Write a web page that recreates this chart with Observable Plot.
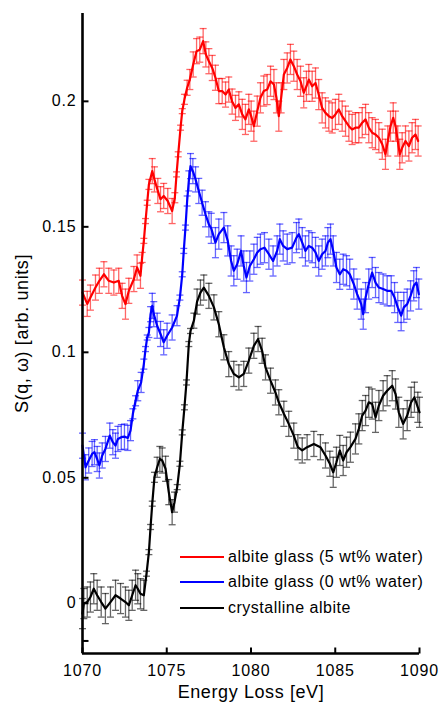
<!DOCTYPE html>
<html><head><meta charset="utf-8">
<script src="https://cdn.jsdelivr.net/npm/d3@7"></script>
<script src="https://cdn.jsdelivr.net/npm/@observablehq/plot@0.6"></script>
<style>
html,body{margin:0;padding:0;background:#fff;}
#wrap{position:relative;width:441px;height:702px;overflow:hidden;}
#legend{position:absolute;left:180px;top:544px;font:16px "Liberation Sans",Arial,sans-serif;letter-spacing:0.5px;color:#000;}
#legend .row{display:flex;align-items:center;height:25.5px;white-space:nowrap;}
#legend .sw{width:44px;height:0;border-top:2.5px solid;margin-right:4px;}
g[aria-label="x-axis label"] text, g[aria-label="y-axis label"] text{font-size:18px;letter-spacing:0.6px;}
</style></head>
<body><div id="wrap"><div id="legend"></div></div>
<script>
// ---- data ----
const seriesNames = ["albite glass (5 wt% water)", "albite glass (0 wt% water)", "crystalline albite"];
const seriesColors = ["#ff0000", "#0000ff", "#000000"];

const redE = [1070.00,1070.28,1070.47,1070.77,1071.00,1071.27,1071.56,1071.86,1072.15,1072.35,1072.55,1072.75,1073.05,1073.24,1073.44,1073.54,1073.64,1073.74,1073.84,1073.94,1074.14,1074.27,1074.47,1074.63,1074.82,1075.06,1075.32,1075.48,1075.58,1075.68,1075.82,1075.92,1076.05,1076.21,1076.37,1076.57,1076.77,1076.96,1077.16,1077.32,1077.50,1077.70,1077.89,1078.09,1078.29,1078.49,1078.68,1078.88,1079.08,1079.28,1079.48,1079.67,1079.87,1080.01,1080.17,1080.37,1080.56,1080.76,1080.96,1081.16,1081.36,1081.51,1081.65,1081.79,1081.95,1082.15,1082.34,1082.54,1082.74,1082.94,1083.13,1083.29,1083.43,1083.63,1083.83,1084.02,1084.22,1084.42,1084.62,1084.82,1085.01,1085.21,1085.41,1085.61,1085.81,1086.00,1086.20,1086.40,1086.60,1086.80,1086.99,1087.19,1087.39,1087.59,1087.79,1087.98,1088.12,1088.28,1088.44,1088.58,1088.71,1088.83,1088.97,1089.17,1089.37,1089.56,1089.76,1089.92];
const redS = [0.1238,0.1193,0.1218,0.1258,0.1285,0.1311,0.1285,0.1278,0.1285,0.1225,0.1192,0.1245,0.1292,0.1338,0.1305,0.1378,0.1444,0.1523,0.1596,0.1669,0.1722,0.1689,0.1643,0.1610,0.1623,0.1603,0.1563,0.1616,0.1709,0.1789,0.1895,0.1961,0.2008,0.2054,0.2087,0.2147,0.2200,0.2206,0.2240,0.2187,0.2160,0.2133,0.2094,0.2041,0.2041,0.2027,0.2047,0.1999,0.1974,0.1988,0.1948,0.1928,0.1968,0.1941,0.1901,0.1961,0.2014,0.2041,0.2047,0.2080,0.2067,0.2014,0.1941,0.2014,0.2107,0.2133,0.2167,0.2140,0.2107,0.2080,0.2034,0.2060,0.2087,0.2060,0.2073,0.2027,0.1974,0.1954,0.1941,0.1934,0.1948,0.1968,0.1941,0.1921,0.1901,0.1888,0.1895,0.1895,0.1915,0.1928,0.1895,0.1875,0.1868,0.1855,0.1829,0.1789,0.1842,0.1901,0.1934,0.1901,0.1842,0.1789,0.1815,0.1842,0.1822,0.1855,0.1868,0.1842];
const redErr = [0.005,0.005,0.005,0.005,0.005,0.005,0.005,0.005,0.005,0.005,0.006,0.005,0.005,0.005,0.005,0.002,0.001,0.001,0.001,0.002,0.005,0.005,0.005,0.005,0.005,0.005,0.005,0.002,0.001,0.001,0.001,0.001,0.002,0.003,0.004,0.005,0.005,0.005,0.005,0.005,0.005,0.005,0.005,0.005,0.005,0.005,0.005,0.005,0.005,0.005,0.006,0.006,0.006,0.006,0.006,0.006,0.006,0.006,0.006,0.006,0.006,0.006,0.006,0.006,0.006,0.006,0.006,0.006,0.006,0.006,0.006,0.006,0.006,0.006,0.006,0.006,0.006,0.006,0.006,0.006,0.006,0.006,0.006,0.006,0.006,0.006,0.006,0.006,0.006,0.006,0.006,0.006,0.006,0.006,0.006,0.006,0.006,0.006,0.006,0.006,0.006,0.006,0.006,0.006,0.006,0.006,0.006,0.006];

const blueE = [1070.00,1070.18,1070.37,1070.57,1070.71,1070.87,1071.00,1071.17,1071.36,1071.62,1071.80,1071.96,1072.10,1072.30,1072.49,1072.69,1072.85,1072.99,1073.15,1073.28,1073.48,1073.64,1073.74,1073.84,1073.94,1074.04,1074.14,1074.23,1074.43,1074.63,1074.82,1075.02,1075.32,1075.61,1075.78,1075.92,1076.01,1076.11,1076.21,1076.31,1076.41,1076.55,1076.71,1076.90,1077.10,1077.30,1077.50,1077.64,1077.89,1078.09,1078.39,1078.62,1078.82,1078.98,1079.18,1079.41,1079.57,1079.73,1079.93,1080.17,1080.37,1080.56,1080.80,1081.06,1081.31,1081.55,1081.71,1081.91,1082.15,1082.44,1082.70,1082.84,1083.04,1083.23,1083.43,1083.63,1083.83,1084.02,1084.22,1084.42,1084.56,1084.72,1084.88,1085.07,1085.27,1085.47,1085.67,1085.86,1086.10,1086.30,1086.54,1086.66,1086.80,1086.99,1087.19,1087.39,1087.59,1087.84,1088.08,1088.32,1088.52,1088.71,1088.91,1089.07,1089.27,1089.47,1089.66,1089.82,1089.96];
const blueS = [0.0628,0.0542,0.0569,0.0595,0.0602,0.0575,0.0549,0.0589,0.0615,0.0668,0.0642,0.0628,0.0655,0.0662,0.0664,0.0659,0.0688,0.0755,0.0807,0.0847,0.0880,0.0953,0.1013,0.1059,0.1079,0.1152,0.1185,0.1152,0.1106,0.1073,0.1040,0.1066,0.1099,0.1146,0.1218,0.1311,0.1404,0.1497,0.1603,0.1683,0.1742,0.1722,0.1689,0.1643,0.1596,0.1550,0.1510,0.1494,0.1437,0.1471,0.1497,0.1444,0.1364,0.1325,0.1351,0.1404,0.1344,0.1298,0.1344,0.1371,0.1398,0.1411,0.1417,0.1391,0.1364,0.1404,0.1451,0.1424,0.1411,0.1417,0.1457,0.1471,0.1437,0.1404,0.1424,0.1417,0.1398,0.1364,0.1391,0.1404,0.1437,0.1451,0.1404,0.1338,0.1311,0.1331,0.1325,0.1311,0.1272,0.1232,0.1192,0.1152,0.1218,0.1272,0.1318,0.1278,0.1258,0.1252,0.1245,0.1245,0.1218,0.1179,0.1146,0.1179,0.1192,0.1225,0.1265,0.1278,0.1232];
const blueErr = [0.005,0.005,0.005,0.005,0.005,0.005,0.005,0.005,0.005,0.005,0.005,0.005,0.005,0.005,0.005,0.005,0.004,0.002,0.002,0.004,0.004,0.002,0.001,0.001,0.002,0.003,0.005,0.005,0.005,0.005,0.005,0.005,0.005,0.004,0.001,0.001,0.001,0.001,0.002,0.004,0.005,0.005,0.005,0.005,0.005,0.005,0.005,0.006,0.006,0.006,0.006,0.006,0.006,0.006,0.006,0.006,0.006,0.006,0.006,0.006,0.006,0.006,0.006,0.006,0.006,0.006,0.006,0.006,0.006,0.006,0.006,0.006,0.006,0.006,0.006,0.006,0.006,0.006,0.006,0.006,0.006,0.006,0.006,0.006,0.006,0.006,0.006,0.006,0.006,0.006,0.006,0.006,0.006,0.006,0.006,0.006,0.006,0.006,0.006,0.006,0.006,0.006,0.006,0.006,0.006,0.006,0.006,0.006,0.006];

const blackE = [1070.00,1070.08,1070.28,1070.47,1070.67,1070.87,1071.11,1071.36,1071.66,1071.96,1072.26,1072.55,1072.75,1072.95,1073.15,1073.28,1073.44,1073.64,1073.80,1073.94,1074.04,1074.14,1074.27,1074.43,1074.59,1074.73,1074.93,1075.12,1075.32,1075.46,1075.62,1075.78,1075.92,1076.05,1076.17,1076.31,1076.41,1076.61,1076.80,1077.00,1077.20,1077.50,1077.80,1078.09,1078.39,1078.68,1078.98,1079.28,1079.57,1079.87,1080.17,1080.42,1080.66,1080.86,1081.16,1081.45,1081.65,1081.95,1082.24,1082.54,1082.78,1083.04,1083.33,1083.73,1084.12,1084.42,1084.68,1084.88,1085.07,1085.27,1085.47,1085.67,1085.90,1086.20,1086.40,1086.60,1086.80,1086.99,1087.19,1087.39,1087.59,1087.84,1088.08,1088.38,1088.58,1088.77,1089.03,1089.27,1089.50,1089.70,1089.90,1090.00];
const blackS = [-0.0041,-0.0001,0.0005,0.0025,0.0058,0.0032,0.0005,-0.0021,0.0005,0.0032,0.0019,0.0005,-0.0008,0.0032,0.0072,0.0058,0.0038,0.0032,0.0118,0.0204,0.0304,0.0397,0.0502,0.0542,0.0575,0.0569,0.0536,0.0443,0.0363,0.0403,0.0463,0.0556,0.0681,0.0781,0.0880,0.1033,0.1085,0.1126,0.1202,0.1238,0.1258,0.1225,0.1179,0.1112,0.1020,0.0953,0.0914,0.0900,0.0914,0.0967,0.1026,0.1053,0.1006,0.0940,0.0887,0.0840,0.0801,0.0755,0.0715,0.0668,0.0622,0.0609,0.0622,0.0635,0.0622,0.0589,0.0556,0.0522,0.0562,0.0609,0.0569,0.0602,0.0622,0.0655,0.0695,0.0748,0.0768,0.0801,0.0794,0.0741,0.0788,0.0827,0.0847,0.0867,0.0834,0.0761,0.0715,0.0748,0.0801,0.0821,0.0781,0.0761];
const blackErr = [0.006,0.006,0.006,0.006,0.006,0.006,0.006,0.006,0.006,0.006,0.006,0.006,0.006,0.006,0.006,0.006,0.006,0.006,0.001,0.001,0.001,0.001,0.002,0.004,0.005,0.005,0.005,0.005,0.005,0.004,0.001,0.001,0.001,0.001,0.001,0.001,0.001,0.003,0.005,0.005,0.005,0.005,0.005,0.005,0.005,0.005,0.005,0.005,0.005,0.005,0.005,0.005,0.005,0.005,0.005,0.005,0.005,0.005,0.005,0.005,0.005,0.005,0.005,0.005,0.005,0.005,0.005,0.006,0.006,0.006,0.006,0.006,0.006,0.006,0.006,0.006,0.006,0.006,0.006,0.006,0.006,0.006,0.006,0.006,0.006,0.006,0.006,0.006,0.006,0.006,0.006,0.006];

const xTicks = [1070, 1075, 1080, 1085, 1090];
const xTickLabels = ["1070", "1075", "1080", "1085", "1090"];
const yTicks = [0, 0.05, 0.1, 0.15, 0.2];
const yTickLabels = ["0", "0.05", "0.1", "0.15", "0.2"];
const yMinorTicks = [-0.015];
const xLabel = "Energy Loss [eV]";
const yLabel = "S(q, ω) [arb. units]";

// ---- build rows ----
const sets = [[redE, redS, redErr], [blueE, blueS, blueErr], [blackE, blackS, blackErr]];
const rows = sets.flatMap(([E, S, Er], k) => E.map((e, i) => ({name: seriesNames[k], color: seriesColors[k], E: e, S: S[i], err: Er[i]})));
const caps = rows.flatMap(d => [{...d, yc: d.S - d.err}, {...d, yc: d.S + d.err}]);

const capSym = {draw(ctx) { ctx.moveTo(-3.5, 0); ctx.lineTo(3.5, 0); }};
const tickUp = {draw(ctx) { ctx.moveTo(0, 0); ctx.lineTo(0, -6); }};
const tickRight = {draw(ctx) { ctx.moveTo(0, 0); ctx.lineTo(6, 0); }};

const chart = Plot.plot({
  width: 441, height: 702,
  marginTop: 13, marginBottom: 49, marginLeft: 82, marginRight: 22,
  x: {domain: [1070, 1090]},
  y: {domain: [-0.02, 0.235]},
  color: {type: "identity"},
  style: {fontFamily: '"Liberation Sans", Arial, sans-serif', fontSize: "16px", letterSpacing: "0.8px", color: "#000", background: "#fff", overflow: "visible"},
  marks: [
    Plot.ruleX(rows, {x: "E", y1: d => d.S - d.err, y2: d => d.S + d.err, stroke: "color", strokeOpacity: 0.6, strokeWidth: 1.3}),
    Plot.dot(caps, {x: "E", y: "yc", symbol: capSym, stroke: "color", fill: "none", strokeOpacity: 0.6, strokeWidth: 1.3}),
    Plot.line(rows, {x: "E", y: "S", z: "name", stroke: "color", strokeWidth: 2.2}),
    Plot.ruleX([1070], {stroke: "#000", strokeWidth: 2.6}),
    Plot.ruleY([-0.02], {stroke: "#000", strokeWidth: 2.6}),
    Plot.dot(xTicks, {x: d => d, y: () => -0.02, symbol: tickUp, stroke: "#000", fill: "none", strokeWidth: 2}),
    Plot.dot(yTicks.concat(yMinorTicks), {x: () => 1070, y: d => d, symbol: tickRight, stroke: "#000", fill: "none", strokeWidth: 2}),
    Plot.axisX({ticks: xTicks, tickSize: 0, tickPadding: 11, tickFormat: d => xTickLabels[xTicks.indexOf(d)], label: xLabel, labelAnchor: "center", labelArrow: "none", labelOffset: 44}),
    Plot.axisY({ticks: yTicks, tickSize: 0, tickPadding: 6, tickFormat: d => yTickLabels[yTicks.indexOf(d)], label: yLabel, labelAnchor: "center", labelArrow: "none", labelOffset: 67})
  ]
});
const wrap = document.getElementById("wrap");
wrap.insertBefore(chart, wrap.firstChild);

const legend = document.getElementById("legend");
seriesNames.forEach((n, k) => {
  const row = document.createElement("div");
  row.className = "row";
  const sw = document.createElement("span");
  sw.className = "sw";
  sw.style.borderTopColor = seriesColors[k];
  const t = document.createElement("span");
  t.textContent = n;
  row.appendChild(sw); row.appendChild(t);
  legend.appendChild(row);
});
</script>
</body></html>
